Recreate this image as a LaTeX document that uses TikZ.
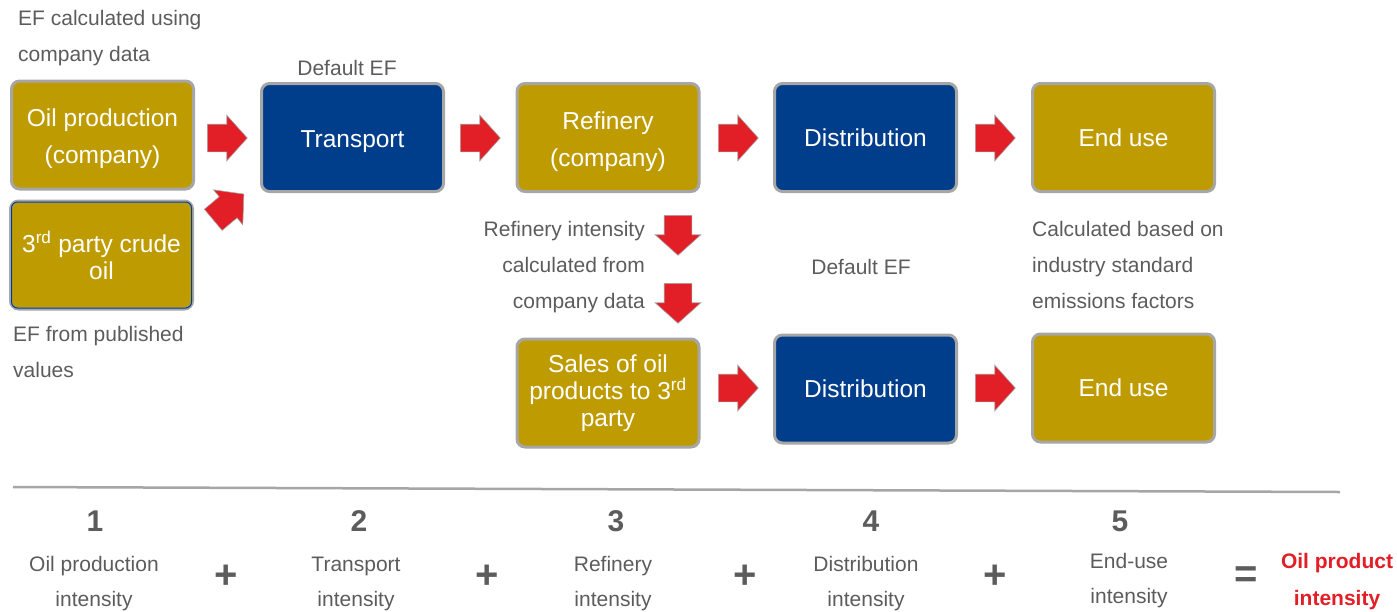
\documentclass[tikz,border=0pt]{standalone}
\usepackage{fontspec}
\setmainfont{Liberation Sans}
\usetikzlibrary{shapes.arrows}
\definecolor{gold}{RGB}{191,155,2}
\definecolor{navy}{RGB}{0,61,138}
\definecolor{flowred}{RGB}{226,30,38}
\definecolor{inkgray}{RGB}{92,92,92}
\definecolor{rimgray}{RGB}{166,166,166}
\newcommand{\boxlift}{\rule{0pt}{26pt}}
\begin{document}
\begin{tikzpicture}[x=1pt,y=-1pt,
	stage/.style={rectangle, rounded corners=8pt, draw=rimgray, line width=3pt, minimum width=182pt, minimum height=108pt, inner sep=0pt, text=white, align=center, font=\fontsize{24.5}{37}\selectfont},
	goldbox/.style={stage, fill=gold},
	bluebox/.style={stage, fill=navy},
	tight/.style={font=\fontsize{24.5}{27}\selectfont},
	flow/.style={single arrow, fill=flowred, draw=rimgray, line width=0.6pt, inner sep=0pt, text height=13.5pt, text depth=13.5pt, minimum height=40pt, single arrow head extend=9pt, single arrow tip angle=96, anchor=tail},
	note/.style={inner sep=0pt, text=inkgray, font=\fontsize{21}{36}\selectfont},
	num/.style={inner sep=0pt, text=inkgray, font=\fontsize{30}{30}\selectfont\bfseries},
	term/.style={inner sep=0pt, text=inkgray, align=center, font=\fontsize{21}{35}\selectfont},
	op/.style={inner sep=0pt, text=inkgray, font=\fontsize{40}{40}\selectfont\bfseries}]
	\useasboundingbox (0,0) rectangle (1397,611);
	\node[goldbox] at (102.5,135) (oil) {\boxlift Oil production\\(company)};
	\node[goldbox, tight] at (101.5,255) (crude) {3\textsuperscript{rd} party crude\\oil};
	\draw[navy, line width=1pt, rounded corners=6pt] ([shift={(2.5,2.5)}]crude.north west) rectangle ([shift={(-2.5,-2.5)}]crude.south east);
	\node[bluebox] at (352.5,137.5) (transport) {\boxlift Transport};
	\node[goldbox] at (608,137.5) (refinery) {\boxlift Refinery\\(company)};
	\node[bluebox] at (865.5,137.5) (dist) {Distribution};
	\node[goldbox] at (1123.5,137.5) (enduse) {End use};
	\node[goldbox, tight] at (608,393) (sales) {Sales of oil\\products to 3\textsuperscript{rd}\\party};
	\node[bluebox] at (865.5,389) (distb) {Distribution};
	\node[goldbox] at (1123.5,388) (enduseb) {End use};
	\node[flow] at (207,138) (oiltotr) {};
	\node[flow, rotate=40] at (213,220) (crudetotr) {};
	\node[flow] at (460,138) (trtoref) {};
	\node[flow] at (718,138) (reftodist) {};
	\node[flow] at (975,138) (disttoend) {};
	\node[flow, rotate=-90] at (678,215) (refdowna) {};
	\node[flow, rotate=-90] at (678,283) (refdownb) {};
	\node[flow] at (718,388) (salestodist) {};
	\node[flow] at (975,388) (distbtoend) {};
	\node[note, anchor=base west, align=left] at (18,61) (efcompany) {EF calculated using\\company data};
	\node[note, anchor=base] at (347,75) (deftr) {Default EF};
	\node[note, anchor=base west, align=left] at (13,377) (efpublished) {EF from published\\values};
	\node[note, anchor=base east, align=right] at (645,308) (refnote) {Refinery intensity\\calculated from\\company data};
	\node[note, anchor=base] at (861,274) (defdist) {Default EF};
	\node[note, anchor=base west, align=left] at (1032,308) (endnote) {Calculated based on\\industry standard\\emissions factors};
	\coordinate (sepl) at (13,487);
	\coordinate (sepr) at (1340,492);
	\draw[rimgray, line width=2.5pt] (sepl) -- (sepr);
	\node[num, anchor=base] at (95,531) (n1) {1};
	\node[num, anchor=base] at (359,531) (n2) {2};
	\node[num, anchor=base] at (616,531) (n3) {3};
	\node[num, anchor=base] at (871,531) (n4) {4};
	\node[num, anchor=base] at (1120,531) (n5) {5};
	\node[term, anchor=base] at (94,606) (t1) {Oil production\\intensity};
	\node[term, anchor=base] at (356,606) (t2) {Transport\\intensity};
	\node[term, anchor=base] at (613,606) (t3) {Refinery\\intensity};
	\node[term, anchor=base] at (866,606) (t4) {Distribution\\intensity};
	\node[term, anchor=base] at (1129,603) (t5) {End-use\\intensity};
	\node[op] at (226,577) (p1) {+};
	\node[op] at (487,577) (p2) {+};
	\node[op] at (745,577) (p3) {+};
	\node[op] at (995,577) (p4) {+};
	\node[op] at (1246,577) (eq) {=};
	\node[term, anchor=base, text=flowred, font=\fontsize{21}{37}\selectfont\bfseries] at (1337,605) (total) {Oil product\\intensity};
\end{tikzpicture}
\end{document}
